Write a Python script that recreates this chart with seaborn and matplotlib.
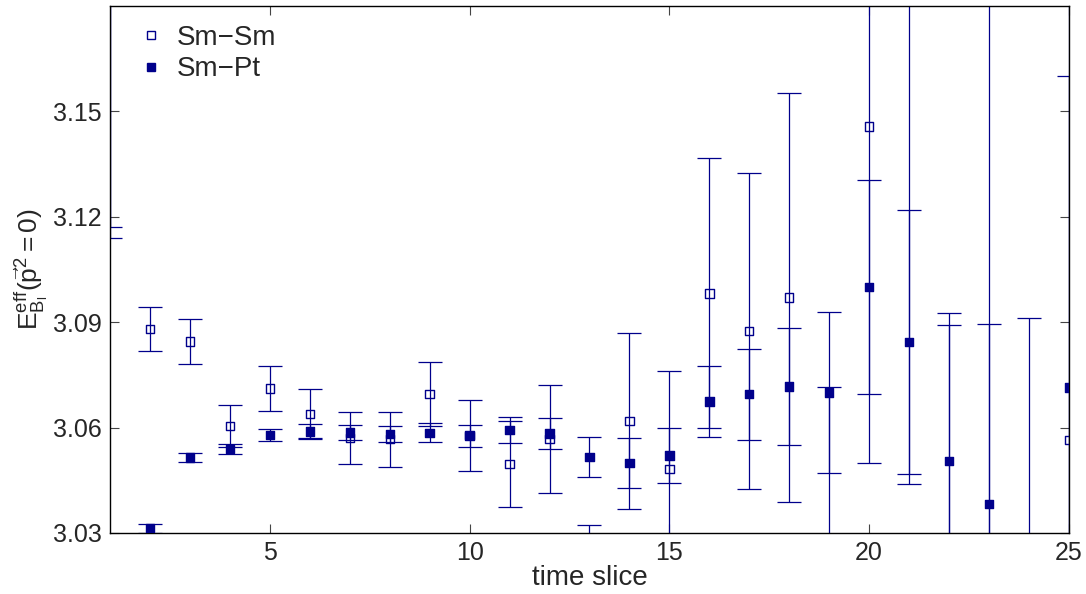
import seaborn as sns
from matplotlib import pyplot as plt
import pandas as pd
import numpy as np

# effective energy vs time slice, two smearing choices
time_slice = list(range(1, 26))

smsm_val = [3.25, 3.0881, 3.0845, 3.0605, 3.0711, 3.0639, 3.0570, 3.0567, 3.0696, 3.0578,
            3.0497, 3.0568, 3.015, 3.0618, 3.0483, 3.0982, 3.0875, 3.0970, 3.005, 3.1457,
            3.20, 3.015, 3.22, 3.00, 3.0564]
smsm_err = [0.133, 0.0062, 0.0063, 0.0060, 0.0063, 0.0071, 0.0075, 0.0078, 0.0092, 0.0101,
            0.0123, 0.0153, 0.0172, 0.0251, 0.0277, 0.0384, 0.0450, 0.0581, 0.0665, 0.0959,
            0.156, 0.0742, 0.30, 0.0913, 0.15]

smpt_val = [3.22, 3.0314, 3.0515, 3.0540, 3.0579, 3.0589, 3.0586, 3.0582, 3.0585, 3.0576,
            3.0593, 3.0583, 3.0517, 3.0499, 3.0521, 3.0674, 3.0695, 3.0717, 3.0700, 3.1000,
            3.0843, 3.0504, 3.0383, 2.95, 3.0714]
smpt_err = [0.106, 0.0013, 0.0013, 0.0014, 0.0016, 0.0020, 0.0020, 0.0023, 0.0027, 0.0031,
            0.0037, 0.0043, 0.0057, 0.0071, 0.0079, 0.0100, 0.0130, 0.0166, 0.0230, 0.0305,
            0.0375, 0.0421, 0.0513, 0.05, 0.0887]

df = pd.DataFrame({
    "t": time_slice * 2,
    "E": smsm_val + smpt_val,
    "err": smsm_err + smpt_err,
    "src": ["Sm\u2212Sm"] * 25 + ["Sm\u2212Pt"] * 25,
})

sns.set_style("ticks")
plt.rcParams["font.family"] = ["Liberation Sans", "DejaVu Sans"]
plt.rcParams["mathtext.fontset"] = "custom"
plt.rcParams["mathtext.rm"] = "Liberation Sans"
plt.rcParams["mathtext.it"] = "Liberation Sans"
plt.rcParams["mathtext.bf"] = "Liberation Sans:bold"

navy = "#00008B"

fig, ax = plt.subplots(figsize=(10.86, 5.94), dpi=100)
fig.subplots_adjust(left=0.1013, right=0.9843, top=0.9899, bottom=0.1027)

for name, grp in df.groupby("src", sort=False):
    ax.errorbar(grp["t"], grp["E"], yerr=grp["err"], fmt="none", ecolor=navy,
                elinewidth=0.9, capsize=8.4, capthick=0.9, zorder=2)

sns.scatterplot(data=df, x="t", y="E", hue="src", style="src",
                palette=[navy, navy], markers=["s", "s"], s=36,
                ax=ax, zorder=3, legend=False)
# make Sm-Sm squares open
coll = ax.collections[-1]
fc = np.array([[1, 1, 1, 0]] * 25 + [list(plt.matplotlib.colors.to_rgba(navy))] * 25)
coll.set_facecolors(fc)
coll.set_edgecolors(navy)
coll.set_linewidths(1.0)

h1 = plt.Line2D([], [], ls="none", marker="s", ms=5.3, mfc="white", mec=navy, mew=1.0)
h2 = plt.Line2D([], [], ls="none", marker="s", ms=5.3, mfc=navy, mec=navy, mew=1.0)
ax.legend([h1, h2], ["Sm\u2212Sm", "Sm\u2212Pt"], loc="upper left", frameon=False,
          fontsize=20, handlelength=1.0, handletextpad=0.45, labelspacing=0.2,
          bbox_to_anchor=(0.002, 1.012))

ax.set_xlim(1, 25)
ax.set_ylim(3.03, 3.18)
ax.set_xticks([5, 10, 15, 20, 25])
ax.set_yticks([3.03, 3.06, 3.09, 3.12, 3.15])
ax.set_yticklabels(["3.03", "3.06", "3.09", "3.12", "3.15"])
ax.tick_params(direction="in", length=6.3, width=0.8, color="#444444",
               top=True, right=True, labelsize=18, pad=6)
for sp in ax.spines.values():
    sp.set_linewidth(1.0)
    sp.set_color("black")

ax.set_xlabel("time slice", fontsize=20, labelpad=0)
ax.set_ylabel(r"$\mathrm{E}^{\mathrm{eff}}_{\mathrm{B_l}}(\vec{\mathrm{p}}^{2}=0)$",
              fontsize=19, labelpad=2)

plt.savefig("out.png", dpi=100)
